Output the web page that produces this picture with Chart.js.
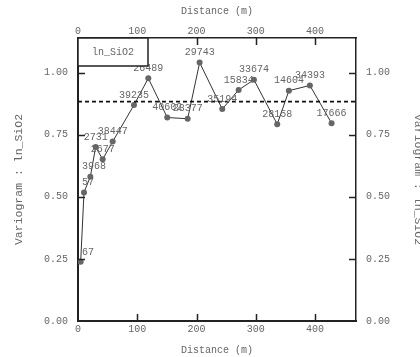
<!DOCTYPE html>
<html>
<head>
<meta charset="utf-8">
<script src="https://cdn.jsdelivr.net/npm/chart.js@4/dist/chart.umd.min.js"></script>
<style>
  body { margin: 0; background: #fff; }
  canvas { display: block; }
</style>
</head>
<body>
<canvas id="variogram" width="420" height="357"></canvas>
<script>
const lagDistances = [4.5, 10.1, 20.8, 29.8, 41.6, 58.5, 94.4, 118.6, 150.6, 185.0, 205.2, 243.4, 271.0, 296.8, 336.1, 355.8, 391.2, 427.8];
const variogramValues = [0.238, 0.517, 0.581, 0.700, 0.651, 0.722, 0.869, 0.977, 0.819, 0.814, 1.040, 0.853, 0.930, 0.971, 0.792, 0.927, 0.948, 0.796];
const pairCounts = ['67', '57', '3968', '2731', '2677', '38447', '39235', '26489', '40602', '28377', '29743', '35194', '15834', '33674', '28158', '14604', '34393', '17666'];
const sillValue = 0.883;
const distanceTicks = [0, 100, 200, 300, 400];
const variogramTicks = [0, 0.25, 0.5, 0.75, 1.0];
const distanceMax = 469;
const variogramMax = 1.139;
const seriesName = 'ln_SiO2';

const FONT = 'Liberation Mono, DejaVu Sans Mono, monospace';
const TEXT = '#666';
const FRAME = '#222';

function keepTicks(list) {
    return scale => {
        scale.ticks = list.map(v => ({ value: v }));
    };
}

function axis(position, ticks, max, fmt, size, pad, title) {
    const horizontal = position === 'top' || position === 'bottom';
    return {
        type: 'linear',
        position: position,
        min: 0,
        max: max,
        afterBuildTicks: keepTicks(ticks),
        afterFit: scale => {
            if (horizontal) scale.height = size; else scale.width = size;
        },
        grid: { display: true, drawOnChartArea: false, drawTicks: false },
        border: {
            display: true,
            color: FRAME,
            width: (position === 'left' || position === 'bottom') ? 2 : 1.5
        },
        ticks: {
            color: TEXT,
            padding: pad,
            font: { family: FONT, size: 10 },
            maxRotation: 0,
            callback: fmt
        },
        title: title
    };
}

function axisTitle(text, size, padding) {
    return { display: true, text: text, color: TEXT, font: { family: FONT, size: size }, padding: padding };
}

// inward tick marks, pair-count labels and the little legend box
const decorations = {
    id: 'decorations',
    afterDatasetsDraw(chart) {
        const ctx = chart.ctx;
        const area = chart.chartArea;
        const s = chart.scales;

        ctx.save();
        ctx.strokeStyle = FRAME;
        ctx.lineWidth = 1.5;
        ctx.beginPath();
        distanceTicks.forEach(v => {
            const px = Math.round(s.x.getPixelForValue(v)) + 0.5;
            if (v > 0) {
                ctx.moveTo(px, area.bottom); ctx.lineTo(px, area.bottom - 7);
                ctx.moveTo(px, area.top); ctx.lineTo(px, area.top + 7);
            }
        });
        variogramTicks.forEach(v => {
            const py = Math.round(s.y.getPixelForValue(v)) + 0.5;
            if (v > 0) {
                ctx.moveTo(area.left, py); ctx.lineTo(area.left + 7, py);
                ctx.moveTo(area.right, py); ctx.lineTo(area.right - 7, py);
            }
        });
        ctx.stroke();
        ctx.restore();

        // pair counts above each point
        ctx.save();
        ctx.beginPath();
        ctx.rect(area.left, area.top, area.right - area.left, area.bottom - area.top);
        ctx.clip();
        ctx.font = '10px ' + FONT;
        ctx.fillStyle = TEXT;
        ctx.textAlign = 'center';
        ctx.textBaseline = 'middle';
        pairCounts.forEach((txt, i) => {
            const w = ctx.measureText(txt).width;
            let px = s.x.getPixelForValue(lagDistances[i]);
            px = Math.max(px, area.left + w / 2 + 4);
            const py = s.y.getPixelForValue(variogramValues[i]) - 10;
            ctx.fillText(txt, px, py);
        });
        ctx.restore();

        // legend box in the top-left corner
        ctx.save();
        ctx.fillStyle = '#fff';
        ctx.strokeStyle = FRAME;
        ctx.lineWidth = 1.5;
        ctx.fillRect(area.left, area.top, 70, 28);
        ctx.strokeRect(area.left, area.top, 70, 28);
        ctx.font = '10px ' + FONT;
        ctx.fillStyle = TEXT;
        ctx.textAlign = 'center';
        ctx.textBaseline = 'middle';
        ctx.fillText(seriesName, area.left + 35, area.top + 14);
        ctx.restore();
    }
};

const ctx = document.getElementById('variogram').getContext('2d');

new Chart(ctx, {
    type: 'scatter',
    data: {
        datasets: [
            {
                label: 'sill',
                data: [{ x: 0, y: sillValue }, { x: distanceMax, y: sillValue }],
                showLine: true,
                borderColor: '#111',
                borderWidth: 1.8,
                borderDash: [4, 3],
                pointRadius: 0,
                xAxisID: 'x',
                yAxisID: 'y'
            },
            {
                label: seriesName,
                data: lagDistances.map((d, i) => ({ x: d, y: variogramValues[i] })),
                showLine: true,
                borderColor: '#333',
                borderWidth: 1,
                pointRadius: 3,
                pointBackgroundColor: '#666',
                pointBorderWidth: 0,
                xAxisID: 'x',
                yAxisID: 'y'
            }
        ]
    },
    options: {
        responsive: false,
        animation: false,
        layout: { padding: 0 },
        plugins: {
            legend: { display: false },
            tooltip: { enabled: false }
        },
        scales: {
            x: axis('bottom', distanceTicks, distanceMax, v => String(v), 36, 2,
                    axisTitle('Distance (m)', 10, { top: 0, bottom: 1 })),
            x2: axis('top', distanceTicks, distanceMax, v => String(v), 38, 1,
                    axisTitle('Distance (m)', 10, { top: 5, bottom: 0 })),
            y: axis('left', variogramTicks, variogramMax, v => v.toFixed(2), 78, 10,
                    axisTitle('Variogram : ln_SiO2', 11.5, { top: 12, bottom: 0 })),
            y2: axis('right', variogramTicks, variogramMax, v => v.toFixed(2), 64, 10,
                    axisTitle('Variogram : ln_SiO2', 11.5, { top: -5, bottom: 0 }))
        }
    },
    plugins: [decorations]
});
</script>
</body>
</html>
